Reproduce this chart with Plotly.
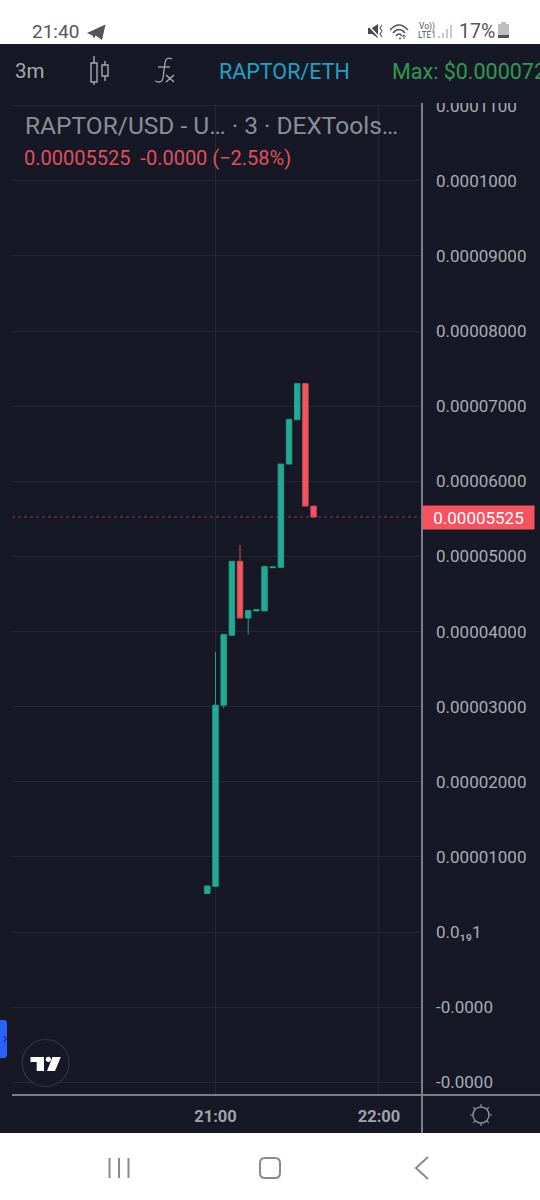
import re
import plotly.graph_objects as go

# ---- data ----
times = ["2024-01-01 20:57", "2024-01-01 21:00", "2024-01-01 21:03", "2024-01-01 21:06",
         "2024-01-01 21:09", "2024-01-01 21:12", "2024-01-01 21:15", "2024-01-01 21:18",
         "2024-01-01 21:21", "2024-01-01 21:24", "2024-01-01 21:27", "2024-01-01 21:30",
         "2024-01-01 21:33", "2024-01-01 21:36"]
opens = [5.13e-6, 6.08e-6, 30.2e-6, 39.5e-6, 49.35e-6, 41.8e-6, 42.75e-6, 42.75e-6,
         48.5e-6, 48.55e-6, 62.3e-6, 68.2e-6, 73.0e-6, 56.7e-6]
highs = [6.13e-6, 37.3e-6, 39.6e-6, 49.35e-6, 51.5e-6, 42.8e-6, 42.9e-6, 48.65e-6,
         48.6e-6, 62.3e-6, 68.25e-6, 73.0e-6, 73.0e-6, 56.7e-6]
lows = [5.13e-6, 6.08e-6, 29.8e-6, 39.5e-6, 41.8e-6, 39.6e-6, 42.75e-6, 42.75e-6,
        48.5e-6, 48.55e-6, 62.3e-6, 68.2e-6, 56.7e-6, 55.25e-6]
closes = [6.13e-6, 30.2e-6, 39.6e-6, 49.35e-6, 41.8e-6, 42.8e-6, 42.9e-6, 48.65e-6,
          48.6e-6, 62.3e-6, 68.25e-6, 73.0e-6, 56.7e-6, 55.25e-6]
y_ticks = [-2e-5, -1e-5, 0, 1e-5, 2e-5, 3e-5, 4e-5, 5e-5, 6e-5, 7e-5, 8e-5, 9e-5, 1e-4, 1.1e-4]
y_labels = ["-0.0000", "-0.0000", "0.0₁₉1", "0.00001000", "0.00002000", "0.00003000",
            "0.00004000", "0.00005000", "0.00006000", "0.00007000", "0.00008000",
            "0.00009000", "0.0001000", "0.0001100"]
x_ticks = ["2024-01-01 21:00", "2024-01-01 22:00"]
x_labels = ["<b>21:00</b>", "<b>22:00</b>"]

W, H = 540, 1200
BG = "#161825"
GREEN, RED = "#22AB94", "#F7525F"
GRID = "#262833"
AXIS = "#7C7E88"
FONT = "Roboto"


def X(x):
    return x / W


def Y(y):
    return 1 - y / H


def conv(s):
    """Pixel path -> paper path"""
    def rep(m):
        return f"{float(m.group(1)) / W:.5f},{1 - float(m.group(2)) / H:.5f}"
    return re.sub(r"(-?[\d.]+),(-?[\d.]+)", rep, s)


shapes = []


def path(s, fill=None, line=None, lw=1.5):
    shapes.append(dict(type="path", xref="paper", yref="paper", path=conv(s), layer="above",
                       fillcolor=fill or "rgba(0,0,0,0)",
                       line=dict(color=line or "rgba(0,0,0,0)", width=lw if line else 0)))


def rect(x0, y0, x1, y1, fill):
    shapes.append(dict(type="rect", xref="paper", yref="paper", x0=X(x0), x1=X(x1), y0=Y(y0), y1=Y(y1),
                       layer="above", fillcolor=fill, line=dict(width=0)))


def circle(cx, cy, r, fill=None, line=None, lw=1.5):
    shapes.append(dict(type="circle", xref="paper", yref="paper", x0=X(cx - r), x1=X(cx + r),
                       y0=Y(cy - r), y1=Y(cy + r), layer="above",
                       fillcolor=fill or "rgba(0,0,0,0)",
                       line=dict(color=line or "rgba(0,0,0,0)", width=lw if line else 0)))


# chrome bands
rect(0, 0, 540, 44, "#FFFFFF")
rect(0, 44, 540, 103, BG)
rect(0, 1133, 540, 1200, "#FFFFFF")
# axis lines
rect(12, 1094, 540, 1096, AXIS)
rect(421, 103, 423, 1133, AXIS)
rect(12, 105, 421, 106, GRID)

# last price line
shapes.append(dict(type="line", xref="paper", yref="y", x0=X(12), x1=X(422), y0=closes[-1], y1=closes[-1],
                   layer="below", line=dict(color="rgba(247,82,95,0.55)", width=1, dash="dot")))

# telegram plane
path("M87,33 L105.5,24.5 L102,40 L95.5,35.5 L94,38.5 L92.5,35.5 Z", fill="#555555")
# mute speaker
path("M368,28 L372,28 L378,24 L378,38 L372,34 L368,34 Z", fill="#4A4A4A")
path("M367,24 L380,38", line="#FFFFFF", lw=1.5)
path("M382,25 L380,28 L382,31 L380,34 L382,37", line="#555555", lw=1.1)
# wifi
path("M390,30 Q399,20 408,30", line="#555555", lw=1.5)
path("M393,33 Q399,26 405,33", line="#555555", lw=1.5)
path("M396,36 Q399,32 402,36", line="#555555", lw=1.5)
circle(400, 38.5, 1, fill="#555555")
path("M404,39 L404,35 M402.5,36.5 L404,35 L405.5,36.5", line="#555555", lw=1)
# signal bars
path("M439,38 L439,36", line="#BBBBBB", lw=1.6)
path("M443,38 L443,33", line="#BBBBBB", lw=1.6)
path("M447,38 L447,29", line="#BBBBBB", lw=1.6)
path("M451,38 L451,25", line="#BBBBBB", lw=1.6)
# battery
rect(501, 22, 506, 24, "#BFBFBF")
rect(498, 24, 509, 38, "#BFBFBF")
rect(498, 35, 509, 38, "#555555")

# candle icon
ICON = "#A7A9B1"
path("M91,63 L97,63 L97,82 L91,82 Z M94,56 L94,63 M94,82 L94,85", line=ICON, lw=1.4)
path("M102,65 L108,65 L108,76 L102,76 Z M105,61 L105,65 M105,76 L105,81", line=ICON, lw=1.4)
# fx icon
path("M172,59 Q166,56 165,63 L163,78 Q162,84 155,81", line=ICON, lw=1.3)
path("M158,67 L170,67", line=ICON, lw=1.3)
path("M166,75 L174,82 M174,75 L166,82", line=ICON, lw=1.5)

# blue tab
path("M0,1020 L4,1020 Q7,1020 7,1023 L7,1055 Q7,1058 4,1058 L0,1058 Z", fill="#2962FF")
path("M4,1036 L6,1039 L4,1042", line="#1A2A66", lw=1.2)
# TV logo
circle(45.7, 1063, 23.5, fill=BG, line="#33363F", lw=1.2)
path("M30.5,1057 L44,1057 L44,1071 L36.7,1071 L36.7,1062 L30.5,1062 Z", fill="#FFFFFF")
circle(48.3, 1059.3, 2.6, fill="#FFFFFF")
path("M52.5,1057 L60.8,1057 L55,1071 L47,1071 Z", fill="#FFFFFF")
# sun
circle(481, 1115, 8, line="#8E9099", lw=1.4)
path("M481,1104 L481,1107 M481,1123 L481,1126 M470,1115 L473,1115 M489,1115 L492,1115 "
     "M473.2,1107.2 L475.3,1109.3 M486.7,1120.7 L488.8,1122.8 M473.2,1122.8 L475.3,1120.7 M486.7,1109.3 L488.8,1107.2",
     line="#8E9099", lw=1.2)
# nav bar
NAV = "#8A8A8A"
for nx in (109.5, 119, 128.5):
    path(f"M{nx},1158 L{nx},1178", line=NAV, lw=2)
path("M265,1158 L275,1158 Q280,1158 280,1163 L280,1173 Q280,1178 275,1178 L265,1178 Q260,1178 260,1173 "
     "L260,1163 Q260,1158 265,1158 Z", line=NAV, lw=2)
path("M428,1157 L416,1168 L428,1179", line=NAV, lw=2)


def note(text, x, y, size, color, anchor="left", **kw):
    return dict(text=text, xref="paper", yref="paper", x=X(x), y=Y(y), xanchor=anchor, yanchor="middle",
                showarrow=False, font=dict(family=FONT, size=size, color=color), **kw)


annotations = [
    note("21:40", 30, 31, 19, "#555555"),
    note("17%", 457, 31, 19.5, "#555555"),
    note("Vo))", 417, 26, 8.5, "#555555"),
    note("LTE1", 416, 35, 8.5, "#555555"),
    note("3m", 12.5, 71, 20.5, "#A7A9B1"),
    note("RAPTOR/ETH", 216.5, 71, 21.5, "#1FA2C4"),
    note("Max: $0.000072", 389.5, 71, 21.5, "#2E9B4F"),
    note("RAPTOR/USD - U… · 3 · DEXTools…", 22.5, 126, 24.5, "#8B8E97"),
    note("0.00005525  -0.0000 (−2.58%)", 21.5, 158, 20, "#E0505C"),
    dict(text="0.00005525", xref="paper", yref="y", x=X(422), y=closes[-1], xanchor="left", yanchor="middle",
         showarrow=False, bgcolor=RED, width=107, height=19, borderpad=2, align="center",
         font=dict(family=FONT, size=17, color="#FFFFFF")),
]

fig = go.Figure(go.Candlestick(
    x=times, open=opens, high=highs, low=lows, close=closes,
    increasing=dict(fillcolor=GREEN, line=dict(color="#209F8A", width=1)),
    decreasing=dict(fillcolor=RED, line=dict(color="#D04F5B", width=1)),
    whiskerwidth=0, hoverinfo="skip", showlegend=False,
))

fig.update_layout(
    width=W, height=H, margin=dict(l=0, r=0, t=0, b=0),
    paper_bgcolor=BG, plot_bgcolor=BG, showlegend=False, boxgap=0.05,
    font=dict(family=FONT, color="#A9ACB4"),
    shapes=shapes, annotations=annotations,
    xaxis=dict(domain=[X(12), X(422)], range=["2024-01-01 19:45:18", "2024-01-01 22:15:48"],
               type="date", tickmode="array", tickvals=x_ticks, ticktext=x_labels,
               showgrid=True, gridcolor=GRID, gridwidth=1, zeroline=False, showline=False,
               ticks="", ticklabelstandoff=9, tickangle=0, tickfont=dict(size=16.5, color="#A0A3AB"),
               rangeslider=dict(visible=False), automargin=False),
    yaxis=dict(domain=[Y(1095), Y(105)], range=[-21.7e-6, 110.1e-6], side="right",
               tickmode="array", tickvals=y_ticks, ticktext=y_labels,
               showgrid=True, gridcolor=GRID, gridwidth=1, zeroline=False, showline=False,
               ticks="", ticklabelstandoff=13, tickfont=dict(size=17, color="#A9ACB4"), automargin=False),
)

fig.write_html("out.html", config={"displayModeBar": False},
               post_script="document.body.style.margin='0';document.documentElement.style.overflow='hidden';")
